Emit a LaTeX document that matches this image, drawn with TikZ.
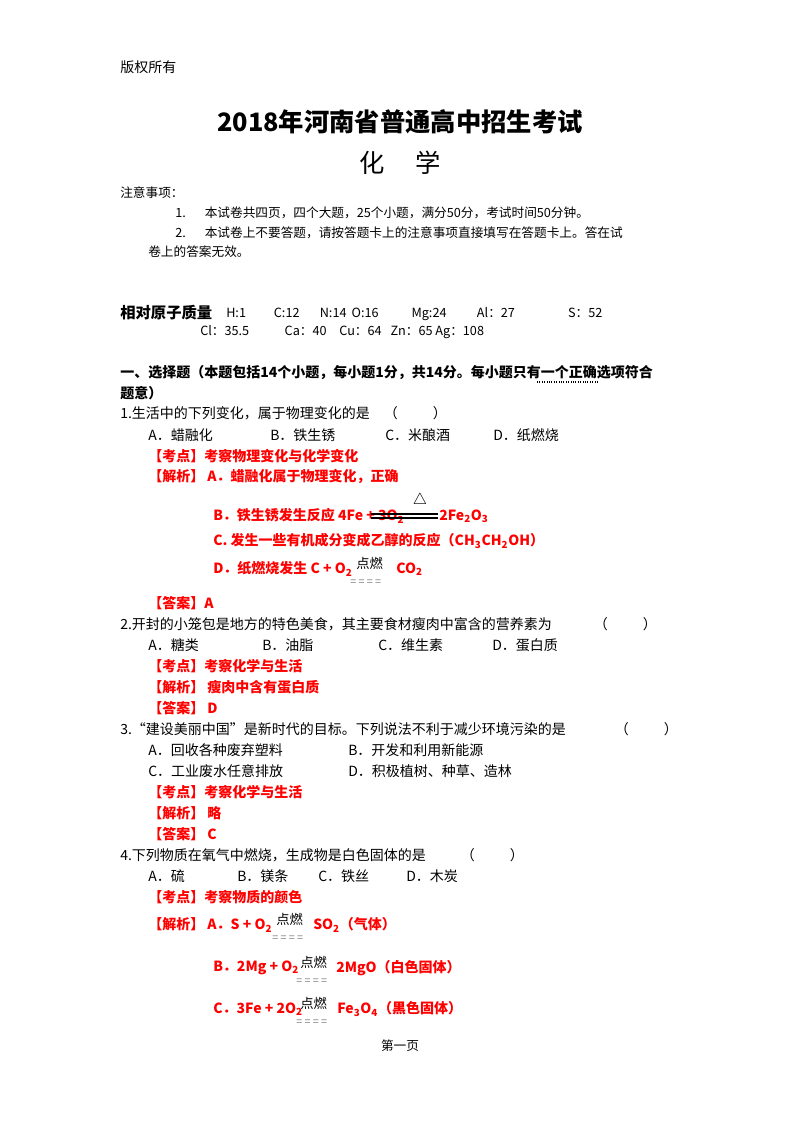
\documentclass[tikz,border=0pt]{standalone}
\usepackage{fontspec}
\setmainfont{Noto Sans CJK SC}
\newfontfamily\serifcjk{Noto Sans CJK SC}
\begin{document}
\begin{tikzpicture}[x=0.75pt,y=-0.75pt,
  t/.style={anchor=west,inner sep=0pt,font=\fontsize{10.5}{12}\selectfont},
  r/.style={t,text=red,font=\fontsize{10.5}{12}\selectfont\bfseries},
  s/.style={t,font=\fontsize{9.5}{11}\selectfont}]
\useasboundingbox[fill=white] (0,0) rectangle (800,1132);
\node[t] (cp) at (120,67) {版权所有};
\node[anchor=center,inner sep=0pt,font=\fontsize{19}{22}\selectfont\bfseries] (title) at (400,122) {2018年河南省普通高中招生考试};
\node[anchor=center,inner sep=0pt,font=\fontsize{19}{22}\selectfont] (sub) at (400,163) {化\hspace{1.2em}学};
\node[s] (n0) at (120,193) {注意事项：};
\node[s] (n1) at (175,213) {1.\hspace{1.5em}本试卷共四页，四个大题，25个小题，满分50分，考试时间50分钟。};
\node[s] (n2) at (175,233) {2.\hspace{1.5em}本试卷上不要答题，请按答题卡上的注意事项直接填写在答题卡上。答在试};
\node[s] (n3) at (148,252) {卷上的答案无效。};
\node[t,font=\fontsize{11.5}{13}\selectfont\bfseries] (am) at (120,313) {相对原子质量};
\node[s,font=\fontsize{9.5}{11}\selectfont] (am1) at (226,314) {H:1\hspace{2.2em}C:12\hspace{1.6em}N:14\hspace{0.4em}O:16\hspace{2.6em}Mg:24\hspace{2.4em}Al：27\hspace{4.2em}S：52};
\node[s] (am2) at (200,332) {Cl：35.5\hspace{2.8em}Ca：40\hspace{1em}Cu：64\hspace{0.7em}Zn：65 Ag：108};
\node[t,font=\fontsize{10.5}{12}\selectfont\bfseries] (h1) at (120,373) {一、选择题（本题包括14个小题，每小题1分，共14分。每小题只有一个正确选项符合};
\draw[densely dotted,thick] (537,382) -- (598,382);
\node[t,font=\fontsize{10.5}{12}\selectfont\bfseries] (h2) at (120,393) {题意）};
% Q1
\node[t] (q1) at (120,413) {1.生活中的下列变化，属于物理变化的是\hspace{1em}（\hspace{2.5em}）};
\node[t] at (148,435) {A．蜡融化}; \node[t] at (270,435) {B．铁生锈};
\node[t] at (385,435) {C．米酿酒}; \node[t] at (493,435) {D．纸燃烧};
\node[r] at (148,456) {【考点】考察物理变化与化学变化};
\node[r] at (148,477) {【解析】 A．蜡融化属于物理变化，正确};
\node[r] (b1) at (213,516) {B．铁生锈发生反应 4Fe + 3O\textsubscript{2}};
\draw[thick] (371,514) -- (438,514) (371,518) -- (438,518);
\node[anchor=center,inner sep=0pt,font=\large] at (420,500) {$\triangle$};
\node[r,anchor=west] at (439,516) {2Fe\textsubscript{2}O\textsubscript{3}};
\node[r] at (213,541) {C. 发生一些有机成分变成乙醇的反应（CH\textsubscript{3}CH\textsubscript{2}OH）};
\node[r] (d1) at (213,569) {D．纸燃烧发生 C + O\textsubscript{2}};
\node[t,font=\fontsize{10}{11}\selectfont\itshape] at (356,563) {点燃};
\node[t,text=gray,font=\fontsize{8}{9}\selectfont] at (350,583) {= = = =};
\node[r] at (396,569) {CO\textsubscript{2}};
\node[r] at (148,603) {【答案】A};
% Q2
\node[t] at (120,624) {2.开封的小笼包是地方的特色美食，其主要食材瘦肉中富含的营养素为\hspace{3em}（\hspace{2.5em}）};
\node[t] at (148,645) {A．糖类}; \node[t] at (262,645) {B．油脂};
\node[t] at (378,645) {C．维生素}; \node[t] at (492,645) {D．蛋白质};
\node[r] at (148,666) {【考点】考察化学与生活};
\node[r] at (148,687) {【解析】 瘦肉中含有蛋白质};
\node[r] at (148,708) {【答案】 D};
% Q3
\node[t] at (120,729) {3.“建设美丽中国”是新时代的目标。下列说法不利于减少环境污染的是\hspace{3.5em}（\hspace{2.5em}）};
\node[t] at (148,750) {A．回收各种废弃塑料}; \node[t] at (348,750) {B．开发和利用新能源};
\node[t] at (148,771) {C．工业废水任意排放}; \node[t] at (348,771) {D．积极植树、种草、造林};
\node[r] at (148,792) {【考点】考察化学与生活};
\node[r] at (148,813) {【解析】 略};
\node[r] at (148,834) {【答案】 C};
% Q4
\node[t] at (120,855) {4.下列物质在氧气中燃烧，生成物是白色固体的是\hspace{2.5em}（\hspace{2.5em}）};
\node[t] at (148,876) {A．硫}; \node[t] at (237,876) {B．镁条};
\node[t] at (318,876) {C．铁丝}; \node[t] at (406,876) {D．木炭};
\node[r] at (148,897) {【考点】考察物质的颜色};
\node[r] at (148,925) {【解析】 A．S + O\textsubscript{2}};
\node[t,font=\fontsize{10}{11}\selectfont\itshape] at (276,919) {点燃};
\node[t,text=gray,font=\fontsize{8}{9}\selectfont] at (272,939) {= = = =};
\node[r] at (313,925) {SO\textsubscript{2}（气体）};
\node[r] at (213,968) {B．2Mg + O\textsubscript{2}};
\node[t,font=\fontsize{10}{11}\selectfont\itshape] at (300,962) {点燃};
\node[t,text=gray,font=\fontsize{8}{9}\selectfont] at (296,982) {= = = =};
\node[r] at (336,968) {2MgO（白色固体）};
\node[r] at (213,1009) {C．3Fe + 2O\textsubscript{2}};
\node[t,font=\fontsize{10}{11}\selectfont\itshape] at (300,1003) {点燃};
\node[t,text=gray,font=\fontsize{8}{9}\selectfont] at (296,1023) {= = = =};
\node[r] at (337,1009) {Fe\textsubscript{3}O\textsubscript{4}（黑色固体）};
\node[anchor=center,inner sep=0pt,font=\fontsize{9.5}{11}\selectfont] at (400,1046) {第一页};
\end{tikzpicture}
\end{document}
